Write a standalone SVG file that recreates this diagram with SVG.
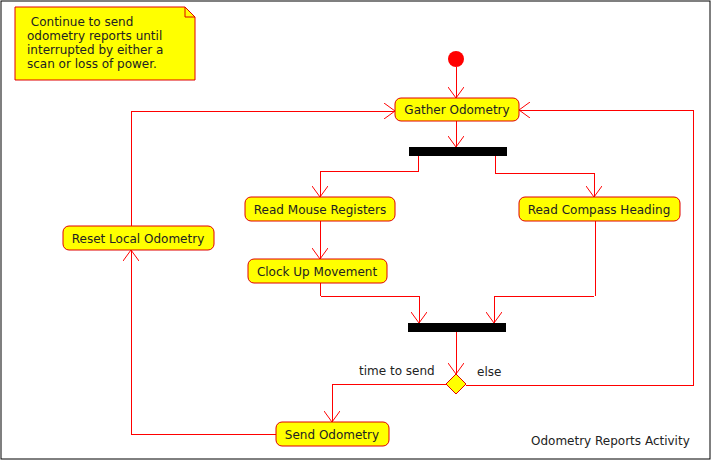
<svg xmlns="http://www.w3.org/2000/svg" width="712" height="460" viewBox="0 0 712 460">
<style>
text{font-family:"DejaVu Sans","Liberation Sans",sans-serif;font-size:12px;fill:#222}
.n{fill:#ffff00;stroke:#e00000;stroke-width:1}
.c{fill:none;stroke:#ff0000;stroke-width:1;shape-rendering:crispEdges}
.m{text-anchor:middle}
</style>
<defs>
<marker id="a" viewBox="0 0 11 16" refX="11" refY="8" markerWidth="11" markerHeight="16" markerUnits="userSpaceOnUse" orient="auto">
<path d="M0,0 L11,8 L0,16" fill="none" stroke="#ff0000" stroke-width="1"/>
</marker>
</defs>
<rect x="1" y="1" width="709" height="458" fill="#fff" stroke="#000" stroke-width="1"/>
<g id="note">
<path d="M15,7 L185,7 L195,17 L195,80 L15,80 Z" fill="#ffff00" stroke="#e00000"/>
<path d="M185,7 L185,17 L195,17" fill="none" stroke="#e00000"/>
<text x="27" y="26" xml:space="preserve"> Continue to send</text>
<text x="27" y="40">odometry reports until</text>
<text x="27" y="54">interrupted by either a</text>
<text x="27" y="68">scan or loss of power.</text>
</g>
<g id="connectors">
<path class="c" d="M456,67 L456,98" marker-end="url(#a)"/>
<path class="c" d="M456,121 L456,147" marker-end="url(#a)"/>
<path class="c" d="M418,156 L418,171 L320,171 L320,197" marker-end="url(#a)"/>
<path class="c" d="M495,156 L495,173 L594,173 L594,197" marker-end="url(#a)"/>
<path class="c" d="M320,221 L320,259" marker-end="url(#a)"/>
<path class="c" d="M320,283 L320,296 L419,297 L419,323" marker-end="url(#a)"/>
<path class="c" d="M595,221 L595,296 L494,297 L494,323" marker-end="url(#a)"/>
<path class="c" d="M456,332 L456,374" marker-end="url(#a)"/>
<path class="c" d="M447,384 L332,384 L332,422" marker-end="url(#a)"/>
<path class="c" d="M466,385 L693,385 L693,110 L519,110" marker-end="url(#a)"/>
<path class="c" d="M276,434 L131,434 L131,250" marker-end="url(#a)"/>
<path class="c" d="M131,226 L131,111 L395,111" marker-end="url(#a)"/>
<text x="359" y="375">time to send</text>
<text x="477" y="376">else</text>
</g>
<g id="start"><circle cx="456" cy="59" r="8" fill="#ff0000"/></g>
<g id="gather"><rect class="n" x="395" y="98" width="124" height="23" rx="6"/><text class="m" x="457" y="114">Gather Odometry</text></g>
<g id="fork"><rect x="409" y="147" width="98" height="9" fill="#000"/></g>
<g id="mouse"><rect class="n" x="245" y="197" width="150" height="24" rx="6"/><text class="m" x="320" y="214">Read Mouse Registers</text></g>
<g id="compass"><rect class="n" x="519" y="197" width="161" height="24" rx="6"/><text class="m" x="599" y="214">Read Compass Heading</text></g>
<g id="reset"><rect class="n" x="63" y="226" width="151" height="24" rx="6"/><text class="m" x="138" y="243">Reset Local Odometry</text></g>
<g id="clock"><rect class="n" x="248" y="259" width="139" height="24" rx="6"/><text class="m" x="317" y="276">Clock Up Movement</text></g>
<g id="join"><rect x="408" y="323" width="98" height="9" fill="#000"/></g>
<g id="decision"><path d="M456,374 L466,384 L456,394 L446,384 Z" fill="#ffff00" stroke="#e00000"/></g>
<g id="send"><rect class="n" x="276" y="422" width="113" height="24" rx="6"/><text class="m" x="332" y="439">Send Odometry</text></g>
<text x="531" y="445">Odometry Reports Activity</text>
</svg>
